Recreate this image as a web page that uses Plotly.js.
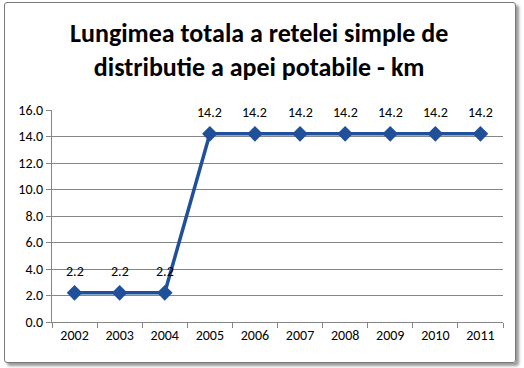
<!DOCTYPE html>
<html><head><meta charset="utf-8">
<script src="https://cdn.plot.ly/plotly-3.0.1.min.js"></script>
<style>
html,body{margin:0;padding:0;background:#fff;}
#wrap{position:relative;width:524px;height:368px;}
#frame{position:absolute;left:4px;top:2px;width:510px;height:359px;border:1.5px solid #7a7a7a;border-radius:3px;box-shadow:3px 3px 3px #9a9a9a;pointer-events:none;}
#chart{position:absolute;left:0;top:0;width:524px;height:368px;}
</style></head>
<body><div id="wrap"><div id="chart"></div><div id="frame"></div></div>
<script>
const years = ['2002','2003','2004','2005','2006','2007','2008','2009','2010','2011'];
const lengthKm = [2.2, 2.2, 2.2, 14.2, 14.2, 14.2, 14.2, 14.2, 14.2, 14.2];
const yTicks = [0, 2, 4, 6, 8, 10, 12, 14, 16];

const font = "Carlito, 'Liberation Sans Narrow', 'DejaVu Sans Condensed', Roboto, sans-serif";

const trace = {
  x: years, y: lengthKm, type: 'scatter', mode: 'lines+markers',
  line: {color: '#21509A', width: 3.5},
  marker: {symbol: 'diamond', size: 12, color: '#21509A'},
  hoverinfo: 'skip'
};

const annotations = years.map((yr, i) => ({
  x: i, y: lengthKm[i], text: lengthKm[i].toFixed(1),
  showarrow: false, yshift: 21, xref: 'x', yref: 'y',
  font: {family: font, size: 14, color: '#000'}
}));
annotations.push({
  xref: 'paper', yref: 'paper', x: 0.458, y: 1, yshift: 95, yanchor: 'top', showarrow: false,
  text: '<b>Lungimea totala a retelei simple de<br>distributie a apei potabile - km</b>',
  font: {family: font, size: 26, color: '#000'}
});

const layout = {
  width: 524, height: 368,
  margin: {l: 52, r: 21, t: 110, b: 46},
  paper_bgcolor: '#fff', plot_bgcolor: '#fff',
  showlegend: false,
  xaxis: {
    type: 'category', range: [-0.5, 9.5], tickson: 'boundaries',
    ticks: 'outside', ticklen: 5, tickcolor: '#868686',
    showline: true, linecolor: '#868686', linewidth: 1,
    showgrid: false, zeroline: false,
    tickfont: {family: font, size: 14, color: '#000'}
  },
  yaxis: {
    range: [0, 16], tickvals: yTicks, ticktext: yTicks.map(v => v.toFixed(1)),
    ticks: 'outside', ticklen: 5, tickcolor: '#868686',
    showline: true, linecolor: '#868686', linewidth: 1,
    showgrid: true, gridcolor: '#868686', gridwidth: 1, zeroline: false,
    tickfont: {family: font, size: 14, color: '#000'}
  },
  annotations: annotations
};
Plotly.newPlot('chart', [trace], layout, {staticPlot: true, displayModeBar: false});
</script></body></html>
